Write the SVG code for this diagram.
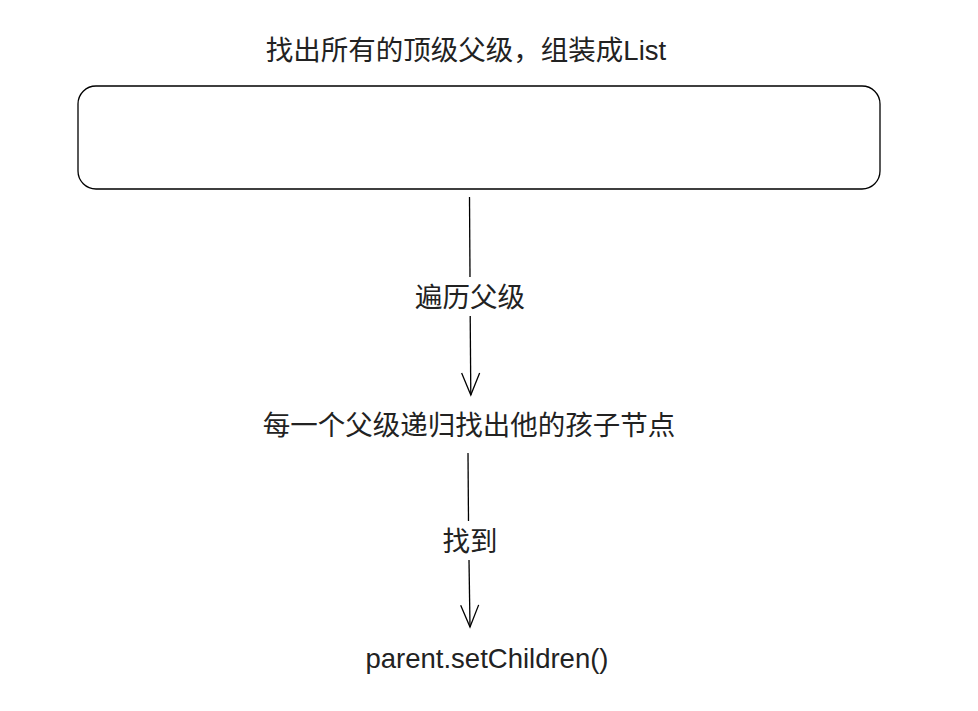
<svg xmlns="http://www.w3.org/2000/svg" width="978" height="711" viewBox="0 0 978 711">
<defs>
<marker id="arr" markerWidth="26" markerHeight="24" refX="23" refY="11" orient="auto" markerUnits="userSpaceOnUse" viewBox="0 0 26 24">
<path d="M1 2 L23 11 L1 20" fill="none" stroke="#000" stroke-width="1.3"/>
</marker>
<style>
text{font-family:"Liberation Sans","Noto Sans CJK SC",sans-serif;font-size:27.5px;fill:#222;text-anchor:middle}
.ln{stroke:#000;stroke-width:1.3;fill:none}
</style>
</defs>
<rect width="978" height="711" fill="#fff"/>
<g id="title"><text x="466" y="60">找出所有的顶级父级，组装成List</text></g>
<g id="box"><rect x="78" y="86" width="802" height="103" rx="18" ry="18" fill="#fff" stroke="#000" stroke-width="1.3"/></g>
<g id="step2"><text x="469" y="435">每一个父级递归找出他的孩子节点</text></g>
<g id="step3"><text x="487" y="668">parent.setChildren()</text></g>
<g id="connectors">
<path class="ln" d="M469.5 197 L470 277"/>
<path class="ln" d="M470.2 316 L470.8 395" marker-end="url(#arr)"/>
<text x="470" y="307">遍历父级</text>
<path class="ln" d="M468 453 L468.5 521"/>
<path class="ln" d="M469 560 L470 627" marker-end="url(#arr)"/>
<text x="470" y="551">找到</text>
</g>
</svg>
